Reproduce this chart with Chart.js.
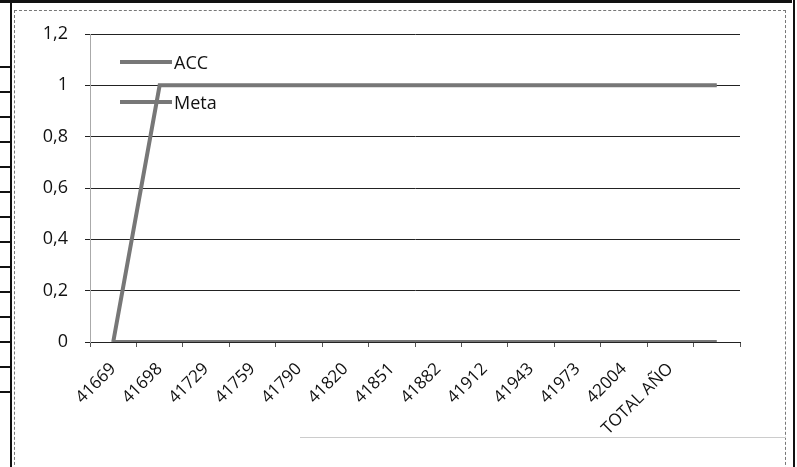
<!DOCTYPE html>
<html lang="es">
<head>
    <meta charset="UTF-8">
    <title>ACC / Meta</title>
    <script src="https://cdn.jsdelivr.net/npm/chart.js@4.4.0/dist/chart.umd.min.js"></script>
    <style>
        * { margin: 0; padding: 0; box-sizing: border-box; }
        body {
            width: 797px;
            height: 467px;
            background: #fff;
            position: relative;
            overflow: hidden;
            font-family: "Open Sans", sans-serif;
        }
        .top-rule { position: absolute; left: 0; top: 0; width: 792px; height: 3px; background: #111; }
        .left-rule { position: absolute; left: 10px; top: 0; width: 2px; height: 467px; background: #111; }
        .right-rule { position: absolute; left: 793px; top: 0; width: 2px; height: 467px; background: #111; }
        .table-lines {
            position: absolute; left: 0; top: 66px; width: 10px; height: 340px;
            background: repeating-linear-gradient(to bottom, #111 0, #111 2px, transparent 2px, transparent 25px);
        }
        .frame {
            position: absolute; left: 14px; top: 10px; width: 772px; height: 470px;
            border: 1px dashed #777;
        }
        .bottom-faint { position: absolute; left: 300px; top: 437px; width: 486px; height: 1px; background: #ccc; }
        #wrap { position: absolute; left: 0; top: 0; width: 797px; height: 467px; }
        .legend { position: absolute; left: 120px; top: 42px; font-size: 18px; color: #111; }
        .legend-item { display: flex; align-items: center; height: 40px; }
        .legend-line { width: 52px; height: 4px; background: #777; margin-right: 2px; }
    </style>
</head>
<body>
    <div class="top-rule"></div>
    <div class="left-rule"></div>
    <div class="right-rule"></div>
    <div class="table-lines"></div>
    <div class="frame"></div>
    <div class="bottom-faint"></div>
    <div id="wrap"><canvas id="chart" width="797" height="467"></canvas></div>
    <div class="legend" id="legend"></div>

    <script>
        const categories = ['41669', '41698', '41729', '41759', '41790', '41820', '41851',
                            '41882', '41912', '41943', '41973', '42004', 'TOTAL AÑO', ''];
        const accValues = [0, 0, 0, 0, 0, 0, 0, 0, 0, 0, 0, 0, 0, 0];
        const metaValues = [0, 1, 1, 1, 1, 1, 1, 1, 1, 1, 1, 1, 1, 1];
        const yTicks = [0, 0.2, 0.4, 0.6, 0.8, 1, 1.2];

        const seriesNames = ['ACC', 'Meta'];
        const lineColor = '#777';

        const legend = document.getElementById('legend');
        seriesNames.forEach(name => {
            const item = document.createElement('div');
            item.className = 'legend-item';
            item.innerHTML = '<span class="legend-line"></span><span>' + name + '</span>';
            legend.appendChild(item);
        });

        new Chart(document.getElementById('chart').getContext('2d'), {
            type: 'line',
            data: {
                labels: categories,
                datasets: [
                    { label: 'ACC', data: accValues, borderColor: lineColor, borderWidth: 4, pointRadius: 0, tension: 0 },
                    { label: 'Meta', data: metaValues, borderColor: lineColor, borderWidth: 4, pointRadius: 0, tension: 0 }
                ]
            },
            options: {
                responsive: false,
                animation: false,
                layout: { padding: { left: 0, right: 57, top: 34, bottom: 0 } },
                plugins: { legend: { display: false }, tooltip: { enabled: false } },
                scales: {
                    x: {
                        offset: true,
                        grid: { offset: true, drawOnChartArea: false, drawTicks: true, tickLength: 5, color: '#555' },
                        border: { color: '#222', width: 1 },
                        ticks: {
                            autoSkip: false,
                            minRotation: 45,
                            maxRotation: 45,
                            padding: 12,
                            color: '#111',
                            font: { family: 'Open Sans', size: 17 }
                        },
                        afterFit: scale => { scale.height = 467 - 342; }
                    },
                    y: {
                        min: 0,
                        max: 1.2,
                        afterBuildTicks: scale => { scale.ticks = yTicks.map(v => ({ value: v })); },
                        grid: { color: '#222', lineWidth: 1, tickLength: 5 },
                        border: { color: '#aaa', width: 1 },
                        ticks: {
                            padding: 17,
                            color: '#111',
                            font: { family: 'Open Sans', size: 18 },
                            callback: v => String(Math.round(v * 10) / 10).replace('.', ',')
                        },
                        afterFit: scale => { scale.width = 90; }
                    }
                }
            }
        });
    </script>
</body>
</html>
